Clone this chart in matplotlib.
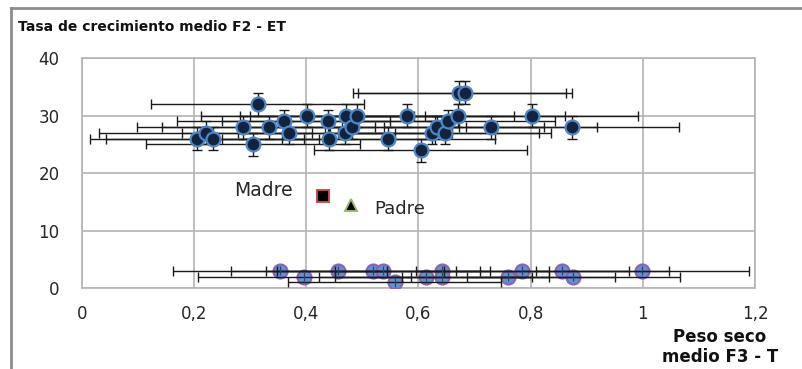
import matplotlib as mpl
mpl.use('Agg')
import matplotlib.pyplot as plt

# Serie superior (F2 - ET)
top_x = [0.205, 0.221, 0.233, 0.288, 0.305, 0.313, 0.333, 0.360, 0.369, 0.402,
         0.439, 0.440, 0.469, 0.471, 0.482, 0.490, 0.546, 0.580, 0.604, 0.624,
         0.633, 0.647, 0.653, 0.671, 0.673, 0.683, 0.729, 0.802, 0.874]
top_y = [26, 27, 26, 28, 25, 32, 28, 29, 27, 30,
         29, 26, 27, 30, 28, 30, 26, 30, 24, 27,
         28, 27, 29, 30, 34, 34, 28, 30, 28]
top_xerr = 0.19
top_yerr = 2.0

# Serie inferior
bottom_x = [0.353, 0.396, 0.456, 0.519, 0.537, 0.558, 0.613, 0.642, 0.642,
            0.760, 0.785, 0.856, 0.876, 0.999]
bottom_y = [3, 2, 3, 3, 3, 1, 2, 3, 2, 2, 3, 3, 2, 3]
bottom_xerr = 0.19
bottom_yerr = 0.8

# Progenitores
madre = (0.43, 16)
padre = (0.48, 14.5)

x_ticks = [0, 0.2, 0.4, 0.6, 0.8, 1.0, 1.2]
x_ticklabels = ['0', '0,2', '0,4', '0,6', '0,8', '1', '1,2']
y_ticks = [0, 10, 20, 30, 40]

plt.rcParams['font.family'] = ['DejaVu Sans']

fig = plt.figure(figsize=(8.02, 3.69), dpi=100)
ax = fig.add_axes([0.1022, 0.2195, 0.8392, 0.6233])

grid_col = '#b4b4b4'
txt_col = '#262626'
ax.set_xlim(0, 1.2)
ax.set_ylim(0, 40)
ax.set_xticks(x_ticks)
ax.set_xticklabels(x_ticklabels)
ax.set_yticks(y_ticks)
ax.grid(True, color=grid_col, lw=1.2)
ax.set_axisbelow(True)
for s in ax.spines.values():
  s.set_color(grid_col)
  s.set_linewidth(1.2)
ax.tick_params(length=0, labelsize=12, colors=txt_col)
ax.tick_params(axis='x', pad=12)
ax.tick_params(axis='y', pad=16)

# serie superior: barras debajo de los marcadores
ax.errorbar(top_x, top_y, xerr=top_xerr, yerr=top_yerr, fmt='none',
            ecolor='#1a1a1a', elinewidth=1.0, capsize=3.5, capthick=1.0, zorder=2)
ax.plot(top_x, top_y, 'o', ms=10, mfc='#10243f', mec='#4f86c6', mew=1.6,
        ls='none', zorder=3)

# serie inferior: barras encima de los marcadores
ax.plot(bottom_x, bottom_y, 'o', ms=10, mfc='#5f93d9', mec='#8a63b3', mew=1.6,
        ls='none', zorder=3)
ax.errorbar(bottom_x, bottom_y, xerr=bottom_xerr, fmt='none',
            ecolor='#1a1a1a', elinewidth=1.0, capsize=3.5, capthick=1.0, zorder=4)
ax.errorbar(bottom_x, bottom_y, yerr=bottom_yerr, fmt='none',
            ecolor='#33416b', elinewidth=0.9, capsize=0, zorder=4)

ax.plot([madre[0]], [madre[1]], 's', ms=9, mfc='black', mec='#c0504d', mew=1.4, zorder=5)
ax.plot([padre[0]], [padre[1]], '^', ms=9, mfc='black', mec='#9bbb59', mew=1.4, zorder=5)
ax.text(madre[0] - 0.055, madre[1] + 0.9, 'Madre', ha='right', va='center',
        fontsize=13.5, color=txt_col)
ax.text(padre[0] + 0.042, padre[1] - 0.8, 'Padre', ha='left', va='center',
        fontsize=13, color=txt_col)

fig.text(18 / 802, 1 - 27 / 369, 'Tasa de crecimiento medio F2 - ET',
         ha='left', va='center', fontsize=10, fontweight='bold', color='#111111')
fig.text(720 / 802, 1 - 347 / 369, 'Peso seco\nmedio F3 - T', ha='center',
         va='center', fontsize=12, fontweight='bold', color='#111111', linespacing=1.2)

# marco exterior del gráfico
fig.add_artist(plt.Line2D([11 / 802, 11 / 802], [0, 1 - 8 / 369],
                          transform=fig.transFigure, color='#8c8c8c', lw=2))
fig.add_artist(plt.Line2D([11 / 802, 1], [1 - 8 / 369, 1 - 8 / 369],
                          transform=fig.transFigure, color='#8c8c8c', lw=2))

fig.savefig('out.png', dpi=100)
